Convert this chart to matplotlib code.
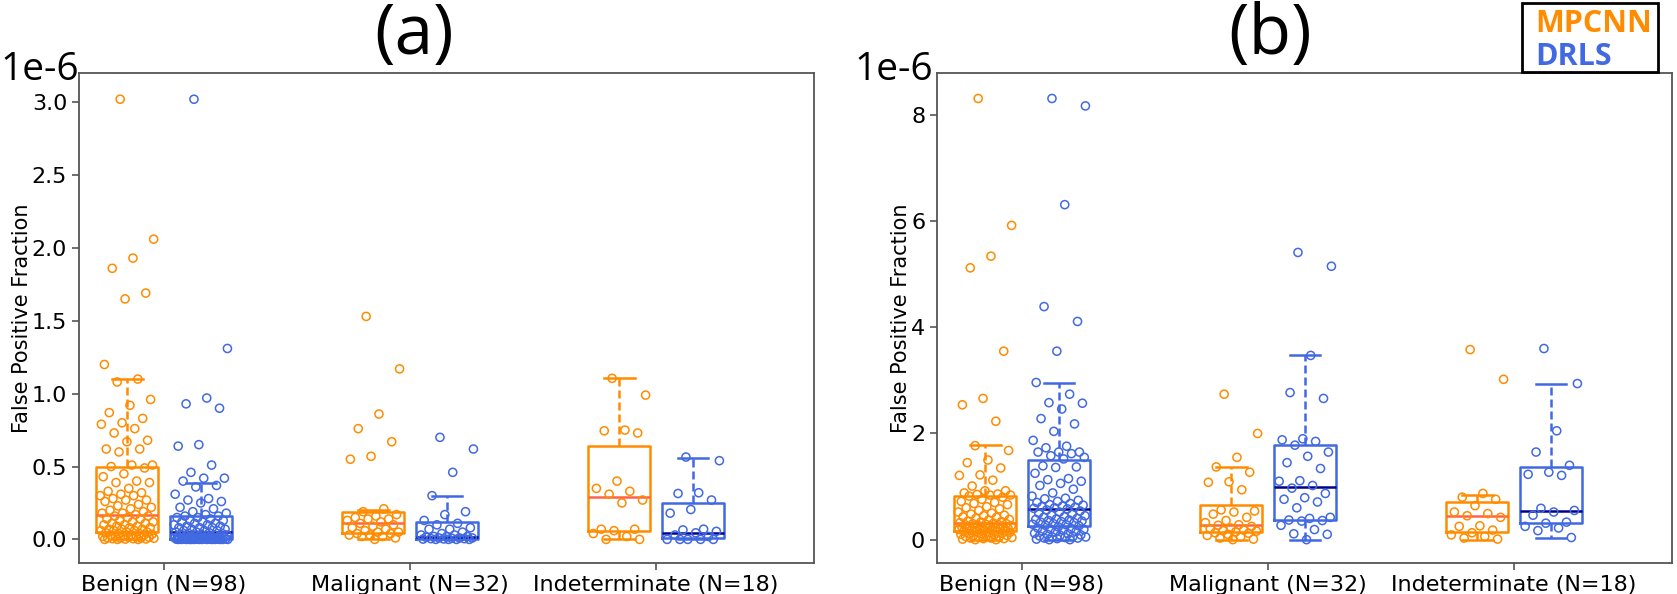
import numpy as np
import matplotlib
matplotlib.use("Agg")
import matplotlib.pyplot as plt
from matplotlib.patches import Rectangle

# ---------------- data (values in units of 1e-6) ----------------
categories = ["Benign (N=98)", "Malignant (N=32)", "Indeterminate (N=18)"]
methods = ["MPCNN", "DRLS"]

# Panel (a)
a_benign_mpcnn = [3.02, 2.06, 1.93, 1.86, 1.69, 1.65, 1.20, 1.10, 1.08, 0.96, 0.92, 0.87, 0.83, 0.80,
                  0.79, 0.76, 0.73, 0.68, 0.67, 0.62, 0.62, 0.60, 0.51, 0.51, 0.50, 0.49, 0.45, 0.43,
                  0.40, 0.39, 0.39, 0.35, 0.33, 0.32, 0.31, 0.30, 0.30, 0.28, 0.27, 0.27, 0.26, 0.24,
                  0.23, 0.22, 0.21, 0.20, 0.19, 0.18, 0.18, 0.17, 0.16, 0.16, 0.15, 0.14, 0.14, 0.13,
                  0.12, 0.12, 0.11, 0.11, 0.10, 0.10, 0.09, 0.09, 0.08, 0.08, 0.07, 0.07, 0.07, 0.06,
                  0.06, 0.06, 0.05, 0.05, 0.045, 0.04, 0.04, 0.035, 0.03, 0.03, 0.03, 0.025, 0.02,
                  0.02, 0.02, 0.015, 0.015, 0.01, 0.01, 0.01, 0.008, 0.005, 0.005, 0.003, 0.002,
                  0.0, 0.0, 0.0]
a_benign_drls = [3.02, 1.31, 0.97, 0.93, 0.90, 0.65, 0.64, 0.51, 0.46, 0.42, 0.42, 0.40, 0.37, 0.36,
                 0.31, 0.28, 0.27, 0.26, 0.25, 0.22, 0.21, 0.19, 0.18, 0.17, 0.16, 0.16, 0.15, 0.15,
                 0.14, 0.13, 0.13, 0.12, 0.12, 0.11, 0.11, 0.10, 0.10, 0.09, 0.09, 0.08, 0.08, 0.08,
                 0.07, 0.07, 0.06, 0.06, 0.06, 0.05, 0.05, 0.045, 0.04, 0.04, 0.035, 0.035, 0.03,
                 0.03, 0.03, 0.025, 0.025, 0.02, 0.02, 0.02, 0.02, 0.015, 0.015, 0.015, 0.01, 0.01,
                 0.01, 0.01, 0.008, 0.008, 0.006, 0.006, 0.005, 0.005, 0.004, 0.004, 0.003, 0.003,
                 0.002, 0.002, 0.001, 0.001, 0.0, 0.0, 0.0, 0.0, 0.0, 0.0, 0.0, 0.0, 0.0, 0.0, 0.0,
                 0.0, 0.0, 0.0]
a_malig_mpcnn = [1.53, 1.17, 0.86, 0.76, 0.67, 0.57, 0.55, 0.21, 0.19, 0.17, 0.16, 0.15, 0.14, 0.14,
                 0.13, 0.12, 0.11, 0.10, 0.09, 0.08, 0.07, 0.06, 0.05, 0.05, 0.04, 0.04, 0.03, 0.03,
                 0.02, 0.02, 0.01, 0.0]
a_malig_drls = [0.70, 0.62, 0.46, 0.30, 0.19, 0.17, 0.13, 0.11, 0.10, 0.08, 0.07, 0.07, 0.05, 0.04,
                0.03, 0.03, 0.02, 0.02, 0.02, 0.015, 0.01, 0.01, 0.01, 0.008, 0.005, 0.005, 0.003,
                0.002, 0.0, 0.0, 0.0, 0.0]
a_indet_mpcnn = [1.105, 0.99, 0.75, 0.745, 0.73, 0.40, 0.35, 0.33, 0.31, 0.27, 0.25, 0.07, 0.07,
                 0.06, 0.04, 0.02, 0.0, 0.0]
a_indet_drls = [0.565, 0.54, 0.32, 0.315, 0.27, 0.205, 0.18, 0.07, 0.065, 0.055, 0.045, 0.03, 0.02,
                0.0, 0.0, 0.0, 0.0, 0.0]

# Panel (b)
b_benign_mpcnn = [8.31, 5.92, 5.34, 5.12, 3.55, 2.66, 2.54, 2.23, 1.77, 1.68, 1.50, 1.45, 1.35, 1.22,
                  1.21, 1.12, 1.01, 0.92, 0.92, 0.88, 0.86, 0.85, 0.84, 0.84, 0.82, 0.80, 0.76, 0.72,
                  0.70, 0.68, 0.66, 0.62, 0.60, 0.58, 0.55, 0.52, 0.50, 0.48, 0.46, 0.45, 0.43, 0.42,
                  0.40, 0.38, 0.37, 0.35, 0.34, 0.33, 0.32, 0.31, 0.30, 0.30, 0.29, 0.28, 0.28, 0.27,
                  0.26, 0.26, 0.25, 0.24, 0.24, 0.23, 0.22, 0.22, 0.21, 0.21, 0.20, 0.20, 0.19, 0.19,
                  0.18, 0.18, 0.17, 0.17, 0.16, 0.15, 0.15, 0.14, 0.13, 0.12, 0.12, 0.11, 0.10, 0.09,
                  0.08, 0.08, 0.07, 0.06, 0.05, 0.05, 0.04, 0.03, 0.03, 0.02, 0.02, 0.01, 0.0, 0.0]
b_benign_drls = [8.31, 8.17, 6.31, 4.39, 4.11, 3.55, 2.96, 2.74, 2.58, 2.57, 2.46, 2.28, 2.18, 2.04,
                 1.87, 1.76, 1.73, 1.65, 1.65, 1.65, 1.62, 1.58, 1.55, 1.52, 1.39, 1.37, 1.36, 1.25,
                 1.15, 1.13, 1.10, 1.06, 1.02, 0.95, 0.88, 0.82, 0.78, 0.77, 0.74, 0.72, 0.70, 0.68,
                 0.66, 0.65, 0.63, 0.62, 0.61, 0.60, 0.59, 0.58, 0.56, 0.54, 0.52, 0.50, 0.48, 0.46,
                 0.45, 0.43, 0.42, 0.40, 0.39, 0.38, 0.37, 0.36, 0.35, 0.34, 0.33, 0.32, 0.30, 0.29,
                 0.28, 0.27, 0.26, 0.24, 0.22, 0.21, 0.20, 0.19, 0.18, 0.16, 0.15, 0.14, 0.12, 0.11,
                 0.10, 0.09, 0.08, 0.07, 0.06, 0.05, 0.05, 0.04, 0.03, 0.03, 0.02, 0.01, 0.0, 0.0]
b_malig_mpcnn = [2.74, 2.00, 1.55, 1.37, 1.27, 1.09, 1.08, 0.94, 0.56, 0.54, 0.52, 0.48, 0.42, 0.36,
                 0.32, 0.28, 0.27, 0.25, 0.22, 0.20, 0.18, 0.17, 0.16, 0.15, 0.13, 0.12, 0.10, 0.08,
                 0.05, 0.03, 0.01, 0.0]
b_malig_drls = [5.41, 5.15, 3.47, 2.77, 2.66, 1.90, 1.88, 1.85, 1.78, 1.65, 1.57, 1.45, 1.34, 1.11,
                1.10, 1.02, 0.97, 0.87, 0.79, 0.76, 0.71, 0.60, 0.42, 0.40, 0.37, 0.36, 0.35, 0.27,
                0.19, 0.11, 0.10, 0.0]
b_indet_mpcnn = [3.58, 3.02, 0.87, 0.80, 0.76, 0.64, 0.52, 0.49, 0.45, 0.42, 0.26, 0.25, 0.18, 0.13,
                 0.09, 0.06, 0.03, 0.01]
b_indet_drls = [3.60, 2.94, 2.05, 1.65, 1.40, 1.27, 1.23, 1.21, 0.59, 0.55, 0.52, 0.46, 0.33, 0.31,
                0.25, 0.22, 0.17, 0.04]

# box statistics (per category: Benign, Malignant, Indeterminate)
a_mpcnn_whislo = [0.0, 0.0, 0.0]
a_mpcnn_q1 = [0.05, 0.045, 0.057]
a_mpcnn_med = [0.17, 0.11, 0.288]
a_mpcnn_q3 = [0.50, 0.187, 0.644]
a_mpcnn_whishi = [1.10, 0.205, 1.105]
a_drls_whislo = [0.0, 0.0, 0.0]
a_drls_q1 = [0.005, 0.0, 0.01]
a_drls_med = [0.05, 0.016, 0.045]
a_drls_q3 = [0.16, 0.116, 0.25]
a_drls_whishi = [0.39, 0.30, 0.56]

b_mpcnn_whislo = [0.0, 0.0, 0.0]
b_mpcnn_q1 = [0.166, 0.14, 0.15]
b_mpcnn_med = [0.31, 0.27, 0.44]
b_mpcnn_q3 = [0.83, 0.655, 0.70]
b_mpcnn_whishi = [1.78, 1.37, 0.85]
b_drls_whislo = [0.0, 0.0, 0.04]
b_drls_q1 = [0.25, 0.37, 0.31]
b_drls_med = [0.585, 0.99, 0.54]
b_drls_q3 = [1.50, 1.79, 1.37]
b_drls_whishi = [2.96, 3.47, 2.94]

a_yticks = [0.0, 0.5, 1.0, 1.5, 2.0, 2.5, 3.0]
b_yticks = [0, 2, 4, 6, 8]

# ---------------- styling ----------------
W, H = 1677, 594
ORANGE = "#ff8c00"
BLUE = "#4169e1"
MED_COLORS = {"MPCNN": "#ff6347", "DRLS": "#00008b"}
COLORS = {"MPCNN": ORANGE, "DRLS": BLUE}
OFFSET = {"MPCNN": -0.15, "DRLS": 0.15}
SPINE = "#555555"

plt.rcParams["font.family"] = ["DejaVu Sans"]

fig = plt.figure(figsize=(W / 100, H / 100), dpi=100)


def px_axes(x0, x1, y0, y1):
    return fig.add_axes([x0 / W, 1 - y1 / H, (x1 - x0) / W, (y1 - y0) / H])


axA = px_axes(79, 814, 73, 563)
axB = px_axes(937, 1672, 73, 563)

panels = [
    (axA,
     {"MPCNN": [a_benign_mpcnn, a_malig_mpcnn, a_indet_mpcnn],
      "DRLS": [a_benign_drls, a_malig_drls, a_indet_drls]},
     {"MPCNN": (a_mpcnn_whislo, a_mpcnn_q1, a_mpcnn_med, a_mpcnn_q3, a_mpcnn_whishi),
      "DRLS": (a_drls_whislo, a_drls_q1, a_drls_med, a_drls_q3, a_drls_whishi)},
     (-0.162, 3.2), a_yticks, "{:.1f}"),
    (axB,
     {"MPCNN": [b_benign_mpcnn, b_malig_mpcnn, b_indet_mpcnn],
      "DRLS": [b_benign_drls, b_malig_drls, b_indet_drls]},
     {"MPCNN": (b_mpcnn_whislo, b_mpcnn_q1, b_mpcnn_med, b_mpcnn_q3, b_mpcnn_whishi),
      "DRLS": (b_drls_whislo, b_drls_q1, b_drls_med, b_drls_q3, b_drls_whishi)},
     (-0.44, 8.79), b_yticks, "{:.0f}"),
]

for ax, pts, stats, ylim, yticks, fmt in panels:
    for ci in range(len(categories)):
        for m in methods:
            col = COLORS[m]
            pos = ci + 1 + OFFSET[m]
            wl, q1, md, q3, wh = (s[ci] for s in stats[m])
            st = dict(whislo=wl, q1=q1, med=md, q3=q3, whishi=wh, fliers=[])
            ax.bxp([st], positions=[pos], widths=0.25, showfliers=False,
                   boxprops=dict(color=col, lw=1.8),
                   whiskerprops=dict(color=col, lw=1.8, ls=(0, (3.2, 1.6))),
                   capprops=dict(color=col, lw=1.8),
                   medianprops=dict(color=MED_COLORS[m], lw=1.8),
                   manage_ticks=False, zorder=2)
            vals = np.asarray(pts[m][ci], dtype=float)
            n = len(vals)
            jit = ((np.arange(n) * 0.618034 + 0.37) % 1.0 - 0.5) * 0.22
            ax.scatter(pos + jit, vals, s=34, facecolors="none", edgecolors=col,
                       linewidths=1.1, zorder=3)
    ax.set_xlim(0.654, 3.642)
    ax.set_ylim(*ylim)
    ax.set_xticks([1, 2, 3])
    ax.set_xticklabels(categories, fontsize=16)
    ax.set_yticks(yticks)
    ax.set_yticklabels([fmt.format(t) for t in yticks], fontsize=16)
    ax.set_ylabel("False Positive Fraction", fontsize=15, labelpad=0)
    for sp in ax.spines.values():
        sp.set_color(SPINE)
        sp.set_linewidth(1.3)
    ax.tick_params(color=SPINE, width=1.2, length=5)

# exponent labels
for x in (0, 854):
    fig.text(x / W, 1 - 80 / H, "1e-6", fontsize=28, family="Open Sans",
             ha="left", va="baseline")

# panel titles
fig.text(414 / W, 1 - 36 / H, "(a)", fontsize=50, family="Open Sans", ha="center", va="center")
fig.text(1270 / W, 1 - 36 / H, "(b)", fontsize=50, family="Open Sans", ha="center", va="center")

# legend box
fig.patches.append(Rectangle((1522 / W, 1 - 72 / H), (1658 - 1522) / W, (72 - 3) / H,
                             transform=fig.transFigure, fill=False, edgecolor="black", lw=2))
fig.text(1535 / W, 1 - 32 / H, "MPCNN", fontsize=22, family="Open Sans", weight="bold",
         color=ORANGE, ha="left", va="baseline")
fig.text(1535 / W, 1 - 65 / H, "DRLS", fontsize=22, family="Open Sans", weight="bold",
         color=BLUE, ha="left", va="baseline")

fig.savefig("out.png", dpi=100)
